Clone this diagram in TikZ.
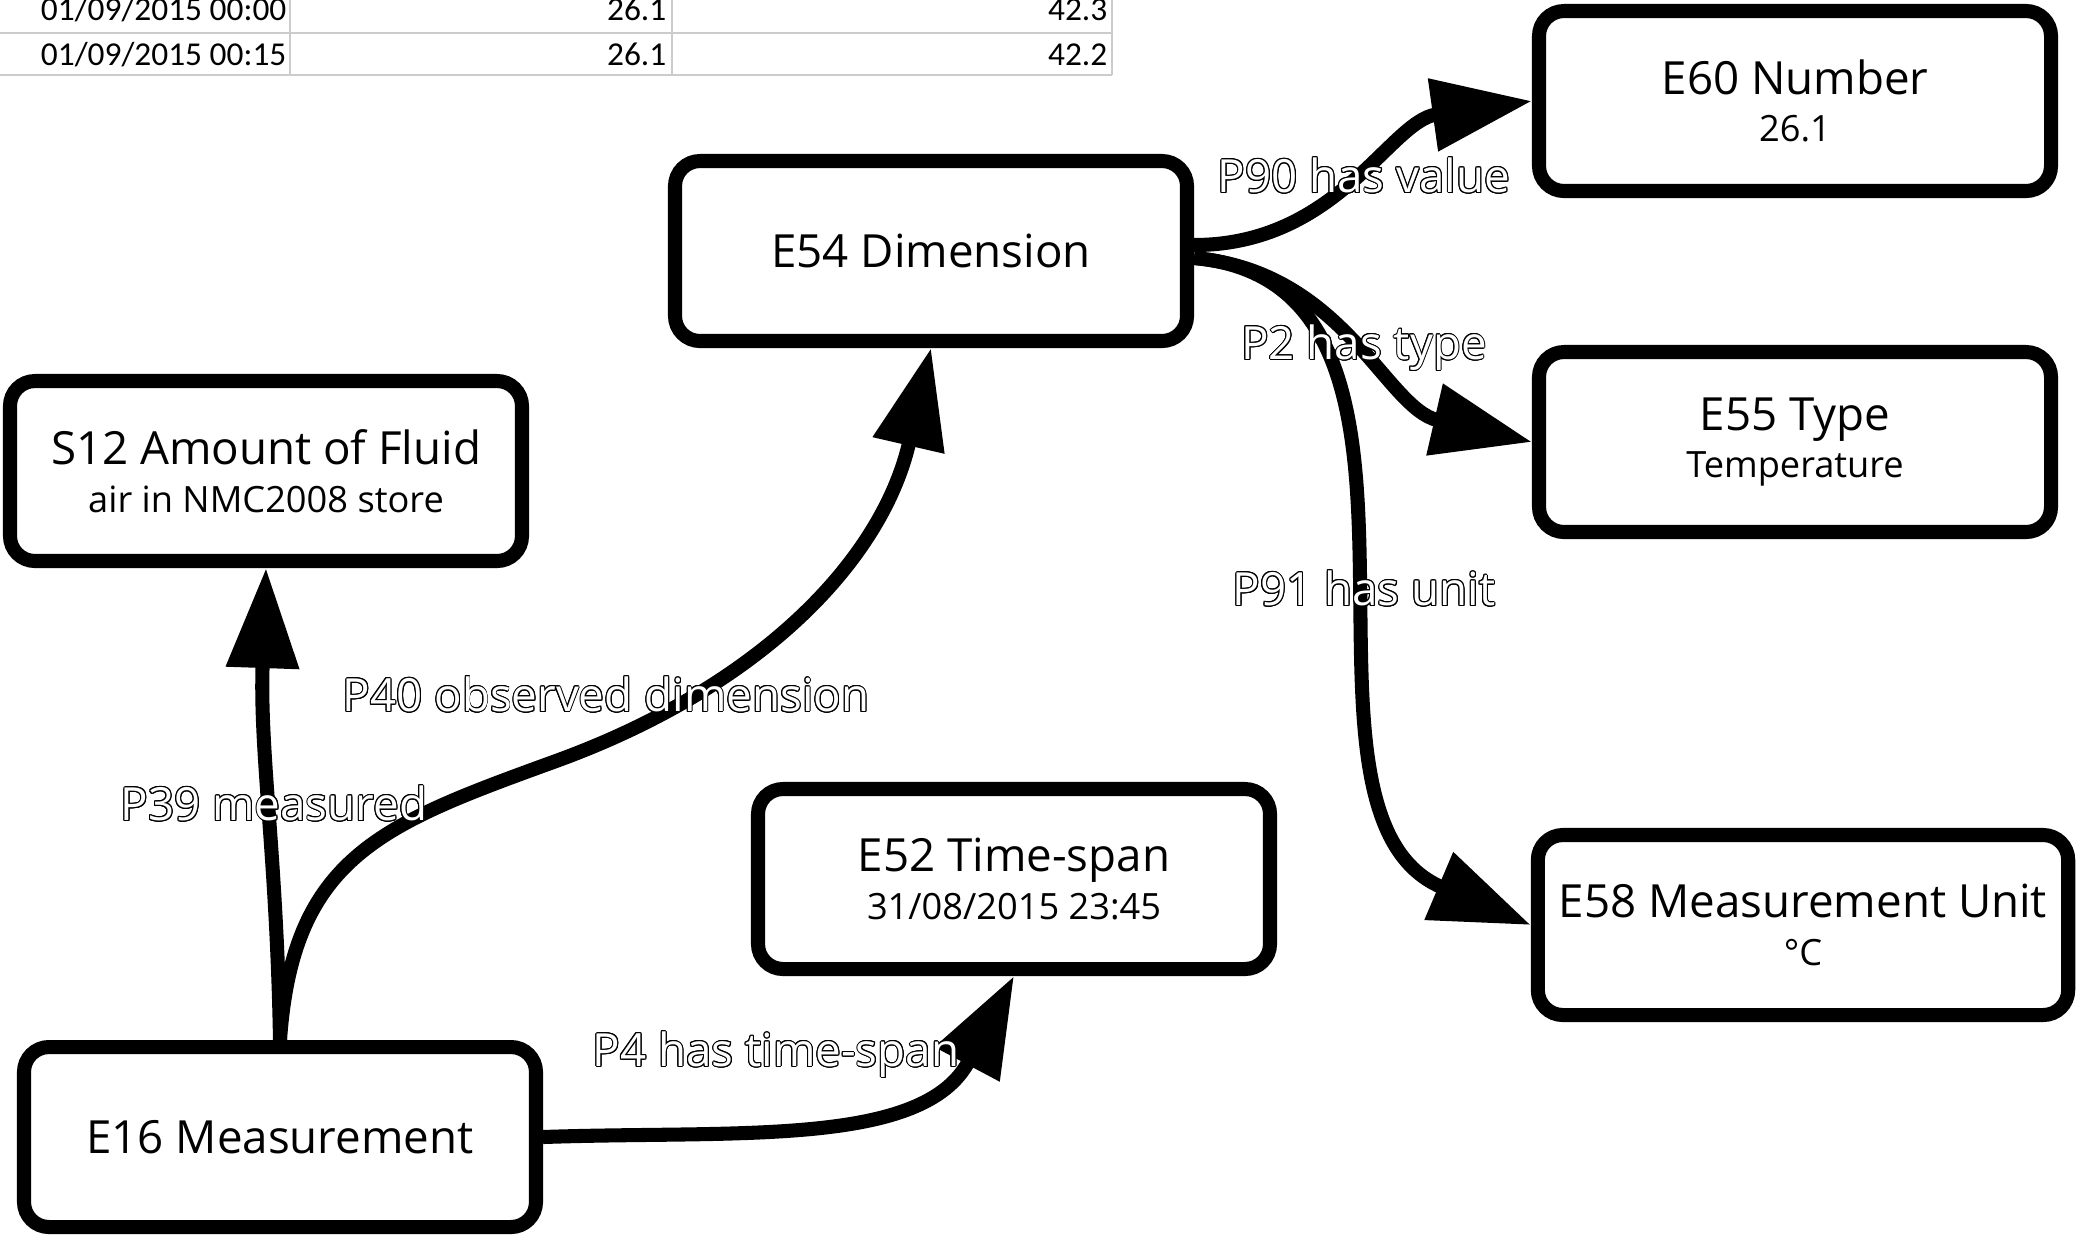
\documentclass[tikz,border=0pt]{standalone}
\usepackage{fontspec}
\setmainfont{Open Sans}
\newfontfamily\sheetfont{Carlito}
\usepackage[copies]{contour}
\usetikzlibrary{arrows.meta}
\contourlength{0.28pt}
\newcommand{\reltext}[1]{\contour{black}{\textcolor{white}{#1}}}
\newcommand{\entity}[2]{#1\\[-1.5pt]{\fontsize{10.3}{12}\selectfont #2}}

\begin{document}
\begin{tikzpicture}[every node/.style={font=\fontsize{13}{15}\selectfont},
	entity/.style={draw, line width=4pt, rounded corners=0.25cm, minimum width=5.12cm, minimum height=1.80cm, align=center, inner xsep=6pt},
	rel/.style={line width=4pt, -{Triangle[length=1cm,width=0.7cm]}},
	label/.style={inner sep=0pt},
	grid/.style={black!20, line width=0.8pt},
	cell/.style={font=\sheetfont\fontsize{9.5}{11}\selectfont, anchor=base east, inner sep=0pt}]
	\useasboundingbox (0,0) rectangle (20.76,-12.40);
	\begin{scope}
		\draw[grid] (0,-0.33) -- (11.12,-0.33);
		\draw[grid] (0,-0.75) -- (11.12,-0.75);
		\draw[grid] (2.90,0) -- (2.90,-0.75);
		\draw[grid] (6.72,0) -- (6.72,-0.75);
		\draw[grid] (11.12,0) -- (11.12,-0.75);
		\node[cell] (t11) at (2.87,-0.205) {01/09/2015 00:00};
		\node[cell] (t12) at (6.67,-0.205) {26.1};
		\node[cell] (t13) at (11.08,-0.205) {42.3};
		\node[cell] (t21) at (2.87,-0.655) {01/09/2015 00:15};
		\node[cell] (t22) at (6.67,-0.655) {26.1};
		\node[cell] (t23) at (11.08,-0.655) {42.2};
	\end{scope}
	\node[entity] (e60) at (17.95,-1.01) {\entity{E60 Number}{26.1}};
	\node[entity] (e54) at (9.31,-2.51) {E54 Dimension};
	\node[entity] (e55) at (17.95,-4.42) {\entity{E55 Type}{Temperature}};
	\node[entity] (s12) at (2.66,-4.71) {\entity{S12 Amount of Fluid}{air in NMC2008 store}};
	\node[entity] (e52) at (10.14,-8.79) {\entity{E52 Time-span}{31/08/2015 23:45}};
	\node[entity] (e58) at (18.03,-9.25) {\entity{E58 Measurement Unit}{°C}};
	\node[entity] (e16) at (2.80,-11.37) {E16 Measurement};
	\coordinate (bend) at (5.56,-7.61);
	\draw[rel] (e16.north) to[out=91, in=-92] (s12.south);
	\draw[rel] (e16.north) to[out=86, in=200, looseness=1.2] (bend) to[out=20, in=-103] (e54.south);
	\draw[rel] (e16.east) to[out=2, in=-118] (e52.south);
	\draw[rel] ([yshift=0.06cm]e54.east) to[out=0, in=188] (e60.west);
	\draw[rel] ([yshift=-0.07cm]e54.east) to[out=-5, in=167] (e55.west);
	\draw[rel] ([yshift=-0.07cm]e54.east) to[out=-5, in=157] (e58.west);
	\node[label] (l90) at (13.64,-1.76) {\reltext{P90 has value}};
	\node[label] (l2) at (13.64,-3.48) {\reltext{P2 has type}};
	\node[label] (l91) at (13.64,-5.89) {\reltext{P91 has unit}};
	\node[label] (l40) at (6.06,-6.95) {\reltext{P40 observed dimension}};
	\node[label] (l39) at (2.74,-8.04) {\reltext{P39 measured}};
	\node[label] (l4) at (7.76,-10.55) {\reltext{P4 has time-span}};
\end{tikzpicture}
\end{document}
